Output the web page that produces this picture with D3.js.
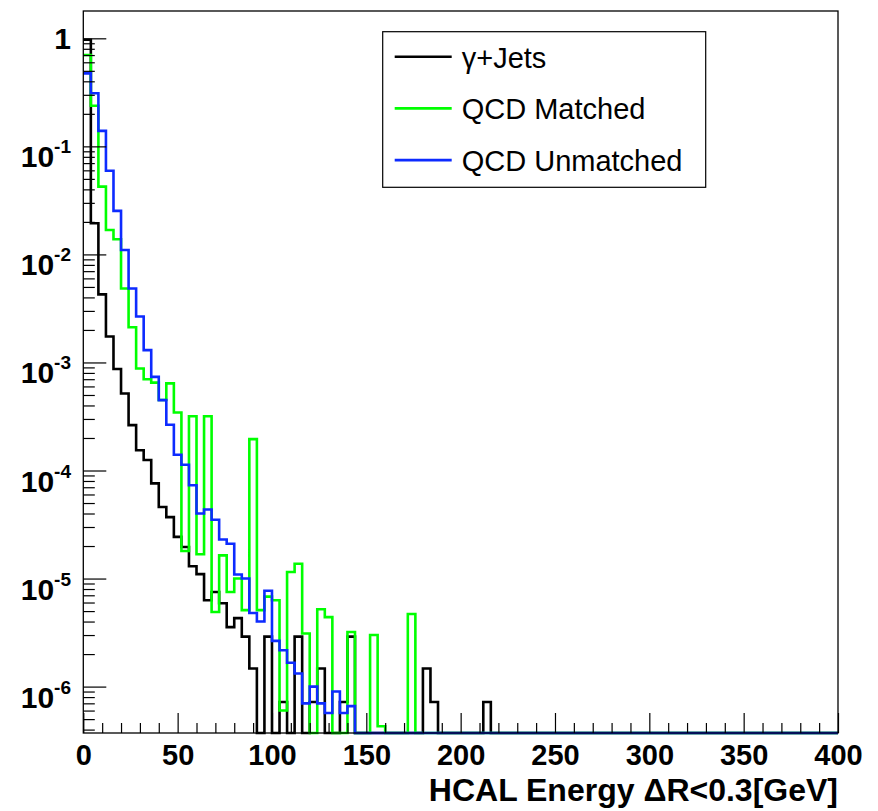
<!DOCTYPE html>
<html>
<head>
<meta charset="utf-8">
<script src="https://cdn.jsdelivr.net/npm/d3@7"></script>
<style>
  body { margin: 0; background: #fff; }
  svg { display: block; }
  text { font-family: "Liberation Sans", Arial, Helvetica, sans-serif; }
</style>
</head>
<body>
<div id="chart"></div>
<script>
// histogram binning (GeV) and axis ticks
const binWidth = 4;
const xMax = 400;
const xMajorTicks = [0, 50, 100, 150, 200, 250, 300, 350, 400];
const xMinorStep = 10;
const yDecades = [1, 1e-1, 1e-2, 1e-3, 1e-4, 1e-5, 1e-6];
const yDecadeLabels = ["1", "-1", "-2", "-3", "-4", "-5", "-6"];

const seriesNames = ["\u03b3+Jets", "QCD Matched", "QCD Unmatched"];
const seriesColors = ["#000000", "#00ff00", "#0d2bff"];

// bin contents, 4 GeV bins starting at 0 (bins past the end are empty)
const gammaJets = [
  0.97, 0.0194, 0.00427, 0.00174, 8.7e-4, 5.16e-4, 2.63e-4, 1.54e-4, 1.25e-4, 7.6e-5,
  4.6e-5, 3.7e-5, 2.43e-5, 1.96e-5, 1.3e-5, 1.1e-5, 6.3e-6, 7.5e-6, 5.9e-6, 3.55e-6,
  4.3e-6, 2.9e-6, 1.47e-6, 0, 2.9e-6, 0, 7.2e-7, 0, 2.9e-6, 0,
  7.2e-7, 1.47e-6, 0, 0, 7.2e-7, 2.9e-6, 0, 0, 0, 0,
  0, 0, 0, 0, 0, 1.47e-6, 7.2e-7, 0, 0, 0,
  0, 0, 0, 7.2e-7, 0, 0
];
const qcdMatched = [
  0.70, 0.238, 0.0424, 0.0168, 0.0138, 0.00484, 0.00212, 8.8e-4, 7.0e-4, 6.5e-4,
  4.5e-4, 6.4e-4, 3.44e-4, 1.8e-5, 3.18e-4, 1.68e-5, 3.18e-4, 4.9e-6, 1.64e-5, 7.5e-6,
  1.0e-5, 5.1e-6, 1.95e-4, 5.1e-6, 6.8e-6, 6.3e-6, 6.0e-7, 1.15e-5, 1.37e-5, 3.1e-6,
  0, 5.2e-6, 4.4e-6, 0, 0, 3.2e-6, 0, 0, 3.0e-6, 4.3e-7,
  0, 0, 0, 4.7e-6, 0, 0
];
const qcdUnmatched = [
  0.474, 0.31, 0.139, 0.0594, 0.0253, 0.011, 0.00484, 0.00266, 0.0013, 7.36e-4,
  4.48e-4, 2.65e-4, 1.4e-4, 1.13e-4, 7.3e-5, 4.0e-5, 4.36e-5, 3.5e-5, 2.3e-5, 2.1e-5,
  1.09e-5, 1.0e-5, 4.8e-6, 4.0e-6, 7.7e-6, 2.65e-6, 2.17e-6, 1.66e-6, 1.32e-6, 7.0e-7,
  1.0e-6, 7.0e-7, 5.7e-7, 9.0e-7, 5.7e-7, 6.6e-7, 0
];
const series = [gammaJets, qcdMatched, qcdUnmatched];

const width = 878;
const height = 811;
const margin = {top: 11, right: 40, bottom: 78, left: 83.3};
const yMin = 3.72e-7, yMaxVal = 1.79;

const svg = d3.select("#chart")
  .append("svg")
    .attr("width", width)
    .attr("height", height);

svg.append("rect").attr("width", width).attr("height", height).attr("fill", "#fff");

const x = d3.scaleLinear()
  .domain([0, xMax])
  .range([margin.left, width - margin.right]);

const y = d3.scaleLog()
  .domain([yMin, yMaxVal])
  .range([height - margin.bottom, margin.top]);

const yv = v => y(Math.max(v, yMin));

// step outline like ROOT's default histogram drawing
const line = d3.line()
  .x(d => x(d[0]))
  .y(d => yv(d[1]))
  .curve(d3.curveStepAfter);

const histPoints = vals => {
  const pts = vals.map((v, i) => [i * binWidth, v]);
  pts.push([vals.length * binWidth, 0]);
  pts.push([xMax, 0]);
  return pts;
};

svg.append("g")
  .selectAll("path")
  .data(series)
  .join("path")
    .attr("d", d => line(histPoints(d)))
    .attr("fill", "none")
    .attr("stroke", (d, i) => seriesColors[i])
    .attr("stroke-width", 2.6)
    .attr("stroke-linejoin", "miter");

// x axis ticks
const xMinor = d3.range(0, xMax + 1, xMinorStep).filter(v => !xMajorTicks.includes(v));
const xAxisG = svg.append("g").attr("transform", `translate(0, ${height - margin.bottom})`);
xAxisG.append("g")
  .call(d3.axisBottom(x).tickValues(xMinor).tickSize(-10).tickFormat(""))
  .call(g => g.select(".domain").remove());
xAxisG.append("g")
  .call(d3.axisBottom(x).tickValues(xMajorTicks).tickSize(-20).tickFormat(d3.format("d")))
  .call(g => g.select(".domain").remove())
  .call(g => g.selectAll("text")
    .attr("y", 32)
    .attr("dy", null)
    .attr("fill", "#000")
    .attr("font-size", 29)
    .attr("font-weight", "bold"));
xAxisG.selectAll("line").attr("stroke", "#000").attr("stroke-width", 1.2);

// y axis ticks (log: decades + 2..9)
const yMinor = [];
for (let e = -7; e <= 0; e++) {
  for (let k = 2; k <= 9; k++) {
    const v = k * Math.pow(10, e);
    if (v >= yMin && v <= yMaxVal) yMinor.push(v);
  }
}
const yAxisG = svg.append("g").attr("transform", `translate(${margin.left}, 0)`);
yAxisG.append("g")
  .call(d3.axisLeft(y).tickValues(yMinor).tickSize(-11.5).tickFormat(""))
  .call(g => g.select(".domain").remove());
yAxisG.append("g")
  .call(d3.axisLeft(y).tickValues(yDecades).tickSize(-23).tickFormat(""))
  .call(g => g.select(".domain").remove());
yAxisG.selectAll("line").attr("stroke", "#000").attr("stroke-width", 1.2);

// y labels with superscripts
const yLab = svg.append("g")
  .attr("font-weight", "bold")
  .attr("fill", "#000")
  .selectAll("text")
  .data(yDecades)
  .join("text")
    .attr("x", 71)
    .attr("text-anchor", "end")
    .attr("font-size", 30)
    .attr("y", (d, i) => y(d) + (i === 0 ? 11 : 21));
yLab.each(function(d, i) {
  const t = d3.select(this);
  if (i === 0) { t.text(yDecadeLabels[i]); return; }
  t.append("tspan").text("10");
  t.append("tspan").attr("font-size", 19).attr("dy", -14).text(yDecadeLabels[i]);
});

// frame
svg.append("rect")
  .attr("x", margin.left)
  .attr("y", margin.top)
  .attr("width", x(xMax) - margin.left)
  .attr("height", height - margin.bottom - margin.top)
  .attr("fill", "none")
  .attr("stroke", "#000")
  .attr("stroke-width", 1.3);

// x axis title
svg.append("text")
  .attr("x", x(xMax))
  .attr("y", 801)
  .attr("text-anchor", "end")
  .attr("font-size", 32)
  .attr("font-weight", "bold")
  .text("HCAL Energy \u0394R<0.3[GeV]");

// legend
const legend = svg.append("g").attr("transform", "translate(382.7, 31.7)");
legend.append("rect")
  .attr("width", 323)
  .attr("height", 155.6)
  .attr("fill", "#fff")
  .attr("stroke", "#000")
  .attr("stroke-width", 1.2);
const entries = legend.selectAll("g.entry")
  .data(seriesNames)
  .join("g")
    .attr("class", "entry")
    .attr("transform", (d, i) => `translate(0, ${25 + i * 51.7})`);
entries.append("line")
  .attr("x1", 12).attr("x2", 69)
  .attr("stroke", (d, i) => seriesColors[i])
  .attr("stroke-width", 2.6);
entries.append("text")
  .attr("x", 79)
  .attr("y", 11)
  .attr("font-size", 29)
  .attr("fill", "#000")
  .text(d => d);
</script>
</body>
</html>
